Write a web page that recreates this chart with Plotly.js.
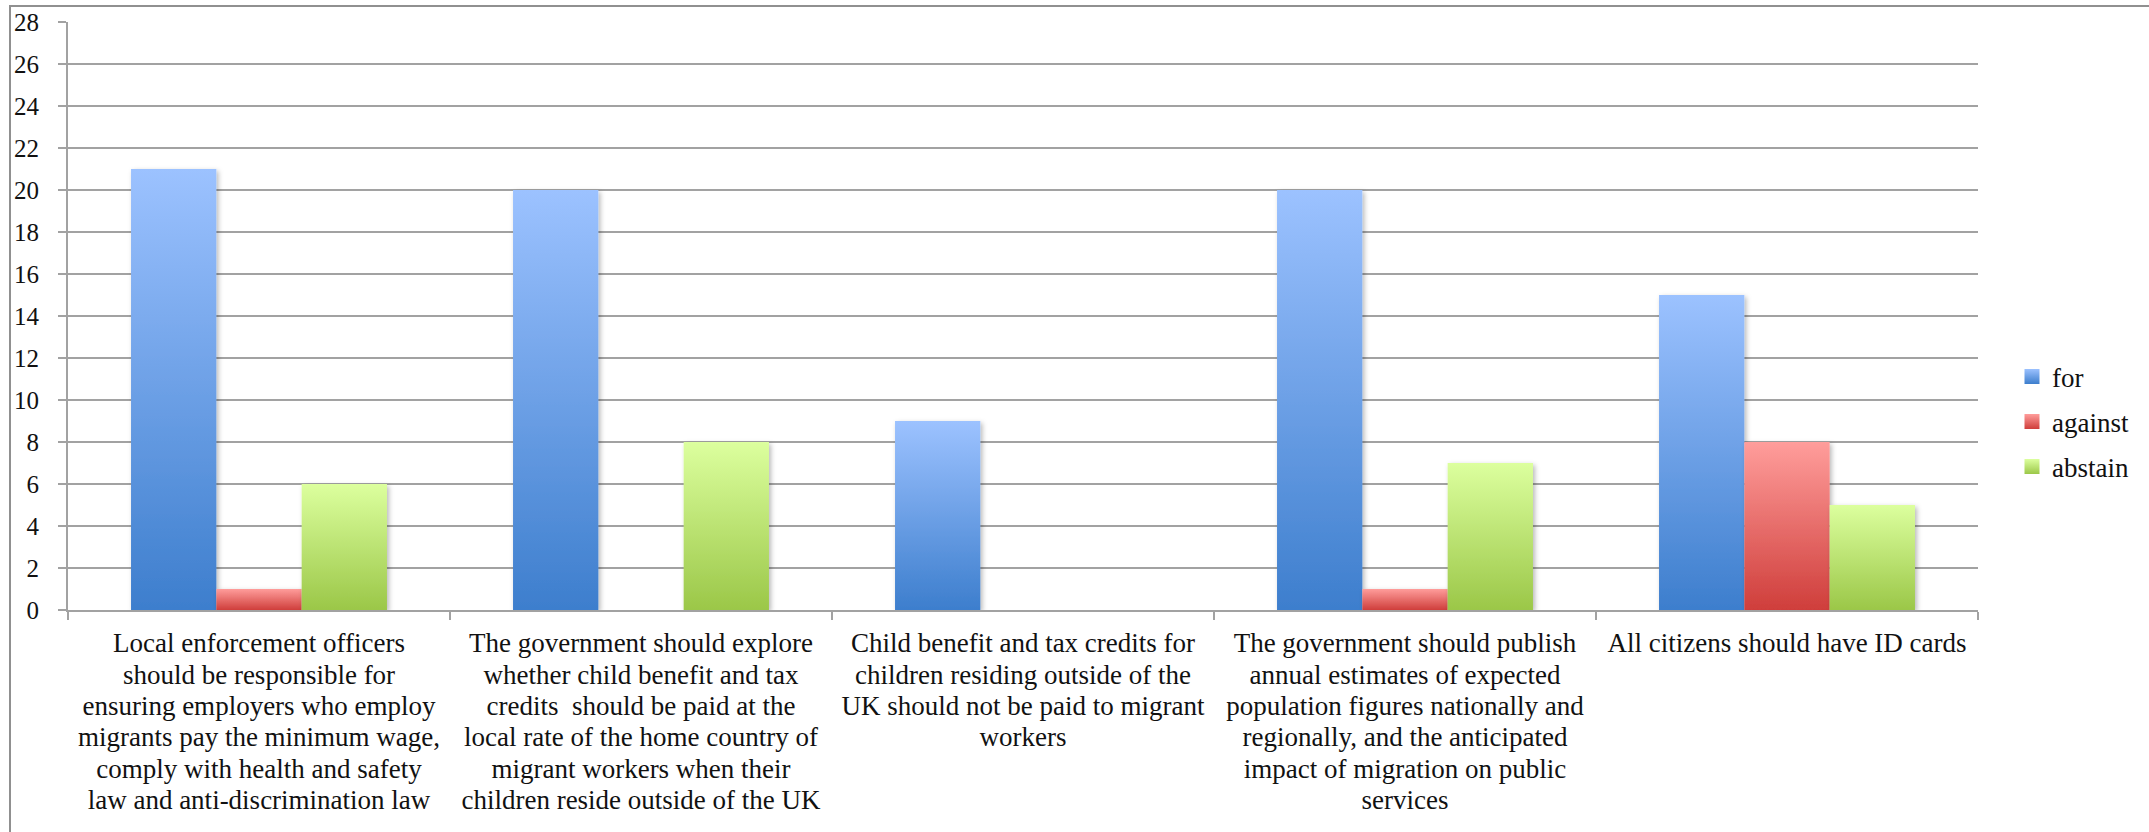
<!DOCTYPE html>
<html><head><meta charset="utf-8">
<script src="https://cdn.plot.ly/plotly-3.0.1.min.js"></script>
<style>
html,body{margin:0;padding:0;background:#fff;overflow:hidden}
#chart{position:absolute;left:0;top:0;width:2149px;height:832px}
#frame{position:absolute;left:9px;top:5px;right:-5px;bottom:-5px;border-left:2px solid #909090;border-top:2px solid #909090;pointer-events:none}
</style></head><body>
<div id="chart"></div><div id="frame"></div>
<script>
const categories = [
  "Local enforcement officers<br>should be responsible for<br>ensuring employers who employ<br>migrants pay the minimum wage,<br>comply with health and safety<br>law and anti-discrimination law",
  "The government should explore<br>whether child benefit and tax<br>credits  should be paid at the<br>local rate of the home country of<br>migrant workers when their<br>children reside outside of the UK",
  "Child benefit and tax credits for<br>children residing outside of the<br>UK should not be paid to migrant<br>workers",
  "The government should publish<br>annual estimates of expected<br>population figures nationally and<br>regionally, and the anticipated<br>impact of migration on public<br>services",
  "All citizens should have ID cards"
];
const forVotes = [21, 20, 9, 20, 15];
const againstVotes = [1, 0, 0, 1, 8];
const abstainVotes = [6, 8, 0, 7, 5];
const seriesNames = ["for", "against", "abstain"];
const yTickValues = [0,2,4,6,8,10,12,14,16,18,20,22,24,26,28];

const seriesValues = [forVotes, againstVotes, abstainVotes];
const baseColors = ["#6a9ee6", "#e86a68", "#c0e277"];
const gradStops = [["#9cc2ff", "#3d7ecd"], ["#ff9d9b", "#cf3e3b"], ["#dcff9e", "#9bc748"]];
const FONT = "Liberation Serif";
const GRID = "#a2a2a2";
const LINE_EM = 1.16;

const traces = seriesNames.map((name, i) => ({
  type: "bar",
  name: name,
  x: categories,
  y: seriesValues[i],
  legendgroup: name,
  marker: {color: baseColors[i], line: {width: 0}},
  hoverinfo: "none"
}));

const layout = {
  width: 2149, height: 832,
  margin: {l: 68, r: 171, t: 22, b: 222, pad: 0},
  paper_bgcolor: "#ffffff", plot_bgcolor: "#ffffff",
  barmode: "group", bargap: 0.33, bargroupgap: 0,
  font: {family: FONT, color: "#111111"},
  showlegend: true,
  legend: {
    x: 1.0178, xanchor: "left", y: 0.32, yanchor: "middle",
    font: {family: FONT, size: 27, color: "#111111"},
    traceorder: "grouped", tracegroupgap: 7,
    bgcolor: "rgba(0,0,0,0)", borderwidth: 0
  },
  xaxis: {
    type: "category", tickson: "boundaries", ticks: "outside", ticklen: 8, tickwidth: 2, tickcolor: GRID,
    showline: true, linecolor: GRID, linewidth: 2, showgrid: false, zeroline: false,
    tickangle: 0, tickfont: {family: FONT, size: 27, color: "#111111"}, automargin: false,
    ticklabelstandoff: 8
  },
  yaxis: {
    range: [0, 28], tickvals: yTickValues, ticktext: yTickValues.map(String),
    ticks: "outside", ticklen: 8, tickwidth: 2, tickcolor: GRID,
    showline: true, linecolor: GRID, linewidth: 2,
    showgrid: true, gridcolor: GRID, gridwidth: 2, zeroline: false,
    tickfont: {family: FONT, size: 25, color: "#111111"}, automargin: false,
    ticklabelstandoff: 14
  }
};

function decorate(gd) {
  const svg = gd.querySelector("svg.main-svg");
  const NS = "http://www.w3.org/2000/svg";
  if (!document.getElementById("barGrad0")) {
    const defs = document.createElementNS(NS, "defs");
    gradStops.forEach((st, i) => {
      const g = document.createElementNS(NS, "linearGradient");
      g.setAttribute("id", "barGrad" + i);
      g.setAttribute("x1", "0"); g.setAttribute("y1", "0"); g.setAttribute("x2", "0"); g.setAttribute("y2", "1");
      [[0, st[0]], [1, st[1]]].forEach(([o, c]) => {
        const s = document.createElementNS(NS, "stop");
        s.setAttribute("offset", o); s.setAttribute("stop-color", c);
        g.appendChild(s);
      });
      defs.appendChild(g);
    });
    const f = document.createElementNS(NS, "filter");
    f.setAttribute("id", "barShadow");
    f.setAttribute("x", "-20%"); f.setAttribute("y", "-20%"); f.setAttribute("width", "150%"); f.setAttribute("height", "150%");
    const ds = document.createElementNS(NS, "feDropShadow");
    ds.setAttribute("dx", "2"); ds.setAttribute("dy", "2"); ds.setAttribute("stdDeviation", "2.5");
    ds.setAttribute("flood-color", "#000"); ds.setAttribute("flood-opacity", "0.28");
    f.appendChild(ds);
    defs.appendChild(f);
    svg.insertBefore(defs, svg.firstChild);
  }
  gd.querySelectorAll(".barlayer .trace").forEach((tr, i) => {
    tr.querySelectorAll(".point path").forEach(p => {
      p.style.fill = "url(#barGrad" + i + ")";
      p.setAttribute("filter", "url(#barShadow)");
    });
  });
  gd.querySelectorAll(".legend .traces").forEach((tr, i) => {
    tr.querySelectorAll(".legendpoints path").forEach(p => {
      p.setAttribute("d", "M7.5,7.5H-7.5V-7.5H7.5Z");
      p.style.fill = "url(#barGrad" + i + ")";
      p.style.stroke = "none";
    });
  });
  gd.querySelectorAll(".xtick text").forEach(t => {
    const lines = t.querySelectorAll("tspan.line");
    lines.forEach((l, k) => { if (k > 0) l.setAttribute("dy", (k * LINE_EM).toFixed(3) + "em"); });
  });
}

Plotly.newPlot("chart", traces, layout, {staticPlot: true, displayModeBar: false}).then(gd => {
  decorate(gd);
  gd.on("plotly_afterplot", () => decorate(gd));
  setTimeout(() => decorate(gd), 300);
});
</script>
</body></html>
